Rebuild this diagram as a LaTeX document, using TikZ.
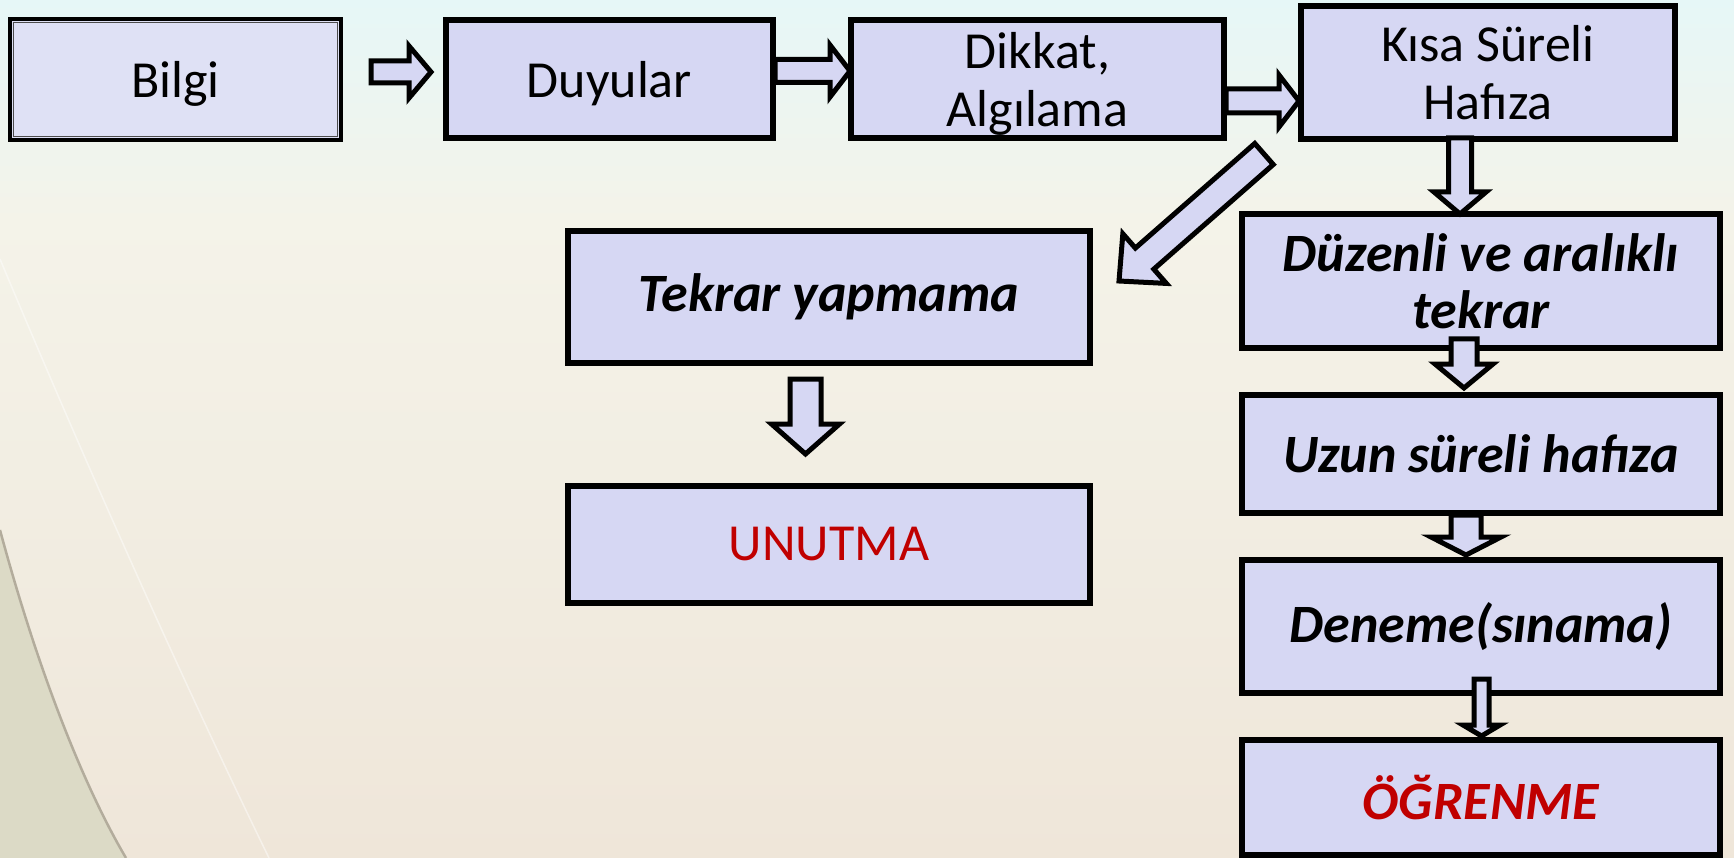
\documentclass[tikz,border=0pt]{standalone}
\usepackage{fontspec}
\setmainfont{Carlito}
\usetikzlibrary{calc}
\definecolor{boxfill}{HTML}{D6D7F3}
\definecolor{bilgifill}{HTML}{DFE1F5}
\definecolor{redtext}{HTML}{C00000}
\definecolor{bgtop}{HTML}{E6F7F7}
\definecolor{bgmid}{HTML}{F4F3E9}
\definecolor{bgbot}{HTML}{EFE6D9}
\definecolor{leftdark}{HTML}{DCDAC6}
\definecolor{arcline}{HTML}{B3AC9C}

\newcommand{\blockarrow}[5]{%
  \coordinate (#1#2h) at ($(#2)!#5!(#1)$);
  \draw[barrowsty] ($(#1)!#3!90:(#2)$) -- ($(#1#2h)!#3!90:(#2)$) -- ($(#1#2h)!#4!90:(#2)$) -- (#2)
     -- ($(#1#2h)!#4!-90:(#2)$) -- ($(#1#2h)!#3!-90:(#2)$) -- ($(#1)!#3!-90:(#2)$) -- cycle;}

\begin{document}
\begin{tikzpicture}[x=1pt,y=-1pt,
  box/.style={draw=black, line width=5.5pt, fill=boxfill, inner sep=0pt, align=center,
    font=\fontsize{52}{58}\selectfont},
  ital/.style={font=\fontsize{54}{57}\selectfont\bfseries\itshape},
  lowtext/.style={text depth=0pt},
  barrowsty/.style={draw=black, line width=5pt, fill=boxfill, line join=miter}]

% background
\useasboundingbox (0,0) rectangle (1734,858);
\fill[top color=bgmid, bottom color=bgbot] (0,220) rectangle (1734,858);
\fill[top color=bgtop, bottom color=bgmid] (0,0) rectangle (1734,220);
\fill[leftdark] (0,530) .. controls (35,660) and (80,780) .. (126,858) -- (0,858) -- cycle;
\draw[arcline, line width=2.5pt] (0,530) .. controls (35,660) and (80,780) .. (126,858);
\draw[white, opacity=0.45, line width=1.5pt] (0,259) .. controls (80,450) and (175,665) .. (269,858);

% boxes
\node[box, lowtext, fill=bilgifill, line width=4pt, minimum width=331pt, minimum height=121pt] (bilgi) at (175.5,79.5) {Bilgi};
\draw[black!70, line width=1.3pt] ([shift={(5.5pt,5.5pt)}]bilgi.south west) rectangle ([shift={(-5.5pt,-5.5pt)}]bilgi.north east);
\node[box, lowtext, minimum width=327pt, minimum height=118pt] (duyular) at (609.5,79) {Duyular};
\node[box, lowtext, minimum width=373pt, minimum height=118pt] (dikkat) at (1037.5,79) {Dikkat,\\Algılama};
\node[box, minimum width=374pt, minimum height=133pt] (kisa) at (1488,72.5) {Kısa Süreli\\Hafıza};
\node[box, ital, minimum width=522pt, minimum height=132pt] (tekrar) at (829,297) {Tekrar yapmama};
\node[box, minimum width=522pt, minimum height=117pt, text=redtext] (unutma) at (829,544.5) {UNUTMA};
\node[box, ital, minimum width=478pt, minimum height=134pt] (duzenli) at (1481,281) {Düzenli ve aralıklı\\tekrar};
\node[box, ital, minimum width=478pt, minimum height=118pt] (uzun) at (1481,454) {Uzun süreli hafıza};
\node[box, ital, minimum width=478pt, minimum height=133pt] (deneme) at (1481,626.5) {Deneme(sınama)};
\node[box, ital, minimum width=478pt, minimum height=115pt, text=redtext] (ogrenme) at (1481,797.5) {ÖĞRENME};

% arrow end points
\coordinate (a1s) at (371,72);   \coordinate (a1e) at (431,72);
\coordinate (a2s) at (775,71);   \coordinate (a2e) at (850,71);
\coordinate (a3s) at (1226,101); \coordinate (a3e) at (1299,101);
\coordinate (a4s) at (1460,138); \coordinate (a4e) at (1460,214);
\coordinate (a5s) at (1264,154); \coordinate (a5e) at (1119,281);
\coordinate (a6s) at (805.5,379); \coordinate (a6e) at (805.5,454);
\coordinate (a7s) at (1464,339); \coordinate (a7e) at (1464,388);
\coordinate (a8s) at (1466,515); \coordinate (a8e) at (1466,555);
\coordinate (a9s) at (1481.5,679); \coordinate (a9e) at (1481.5,736);

\blockarrow{a1s}{a1e}{11pt}{26pt}{22pt}
\blockarrow{a2s}{a2e}{11.5pt}{26pt}{20pt}
\blockarrow{a3s}{a3e}{12pt}{26pt}{20pt}
\blockarrow{a4s}{a4e}{11.5pt}{26pt}{22pt}
\blockarrow{a5s}{a5e}{14pt}{33pt}{34pt}
\blockarrow{a6s}{a6e}{15.5pt}{34pt}{30pt}
\blockarrow{a7s}{a7e}{13pt}{29pt}{24pt}
\blockarrow{a8s}{a8e}{15pt}{35pt}{18pt}
\blockarrow{a9s}{a9e}{7.5pt}{18.5pt}{11pt}
\end{tikzpicture}
\end{document}
